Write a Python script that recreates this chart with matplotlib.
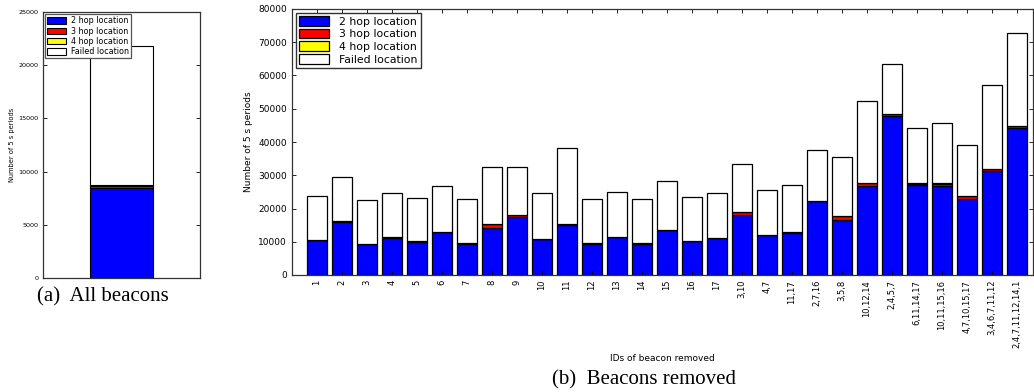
import numpy as np
from matplotlib import pyplot as plt

# beacon sets removed (panel b)
labels = ['1', '2', '3', '4', '5', '6', '7', '8', '9', '10', '11', '12', '13', '14',
          '15', '16', '17', '3,10', '4,7', '11,17', '2,7,16', '3,5,8', '10,12,14',
          '2,4,5,7', '6,11,14,17', '10,11,15,16', '4,7,10,15,17', '3,4,6,7,11,12',
          '2,4,7,11,12,14,1']
hop2 = [10400, 16000, 9200, 11100, 9900, 12800, 9400, 14000, 17300, 10700, 15000,
        9300, 11300, 9300, 13400, 10100, 11000, 18000, 11900, 12700, 22200, 16500,
        26700, 47900, 27000, 26700, 23000, 31300, 44300]
hop3 = [200, 200, 150, 150, 150, 150, 150, 1200, 700, 150, 400, 150, 150, 150, 150,
        150, 150, 800, 150, 150, 150, 1200, 900, 400, 500, 800, 700, 500, 600]
hop4 = [50] * 29
failed = [13150, 13250, 13200, 13300, 13200, 13700, 13200, 17350, 14550, 13900, 22850,
          13300, 13600, 13400, 14600, 13200, 13400, 14450, 13500, 14200, 15100, 17750,
          24750, 15150, 16650, 18050, 15450, 25350, 27850]

# all beacons (panel a)
all_hop2 = [8500]
all_hop3 = [180]
all_hop4 = [30]
all_failed = [13060]

series_names = ['2 hop location', '3 hop location', '4 hop location', 'Failed location']
colors = ['#0000ff', '#ff0000', '#ffff00', 'white']

plt.rcParams['font.family'] = 'DejaVu Sans'

W, H = 1034, 392
fig = plt.figure(figsize=(W / 100, H / 100), dpi=100)


def stack(ax, x, parts, lw):
    bottom = np.zeros(len(x))
    for vals, c, name in zip(parts, colors, series_names):
        ax.bar(x, vals, 0.8, bottom=bottom, color=c, edgecolor='black',
               linewidth=lw, label=name)
        bottom = bottom + np.array(vals)


def style(ax, size):
    ax.tick_params(direction='in', top=True, right=True, labelsize=size,
                   length=3, width=0.6)
    for s in ax.spines.values():
        s.set_linewidth(0.9)
        s.set_color('#333333')


# panel a
ax1 = fig.add_axes([43 / W, 1 - 278 / H, 157 / W, 266 / H])
stack(ax1, np.array([0]), [all_hop2, all_hop3, all_hop4, all_failed], 0.8)
ax1.set_xlim(-1, 1)
ax1.set_ylim(0, 25000)
ax1.set_xticks([])
ax1.set_yticks(np.arange(0, 25001, 5000))
style(ax1, 4.6)
ax1.set_ylabel('Number of 5 s periods', fontsize=4.8, labelpad=2)
leg1 = ax1.legend(loc='upper left', fontsize=5.8, fancybox=False, framealpha=1,
                  edgecolor='#555555', handlelength=2.3, handleheight=0.9,
                  borderpad=0.3, labelspacing=0.15, borderaxespad=0.25,
                  handletextpad=0.6)
leg1.get_frame().set_linewidth(0.9)

# panel b
ax2 = fig.add_axes([292 / W, 1 - 275 / H, 741 / W, 266 / H])
x = np.arange(len(labels))
stack(ax2, x, [hop2, hop3, hop4, failed], 0.9)
ax2.set_xlim(-1, 28.65)
ax2.set_ylim(0, 80000)
ax2.set_xticks(x)
ax2.set_xticklabels(labels, rotation=90)
ax2.set_yticks(np.arange(0, 80001, 10000))
style(ax2, 6.5)
ax2.tick_params(axis='x', labelsize=6)
ax2.set_ylabel('Number of 5 s periods', fontsize=6.5, labelpad=4)
ax2.set_xlabel('IDs of beacon removed', fontsize=6.5, labelpad=4)
leg2 = ax2.legend(loc='upper left', fontsize=7.8, fancybox=False, framealpha=1,
                  edgecolor='#333333', handlelength=2.8, handleheight=1.0,
                  borderpad=0.3, labelspacing=0.2, borderaxespad=0.35,
                  handletextpad=0.9)
leg2.get_frame().set_linewidth(1.0)

# captions
fig.text(37 / W, 1 - 297 / H, '(a)  All beacons', fontsize=15,
         family='Liberation Serif', va='center', ha='left')
fig.text(644 / W, 1 - 380 / H, '(b)  Beacons removed', fontsize=15,
         family='Liberation Serif', va='center', ha='center')

fig.savefig('out.png', dpi=100)
